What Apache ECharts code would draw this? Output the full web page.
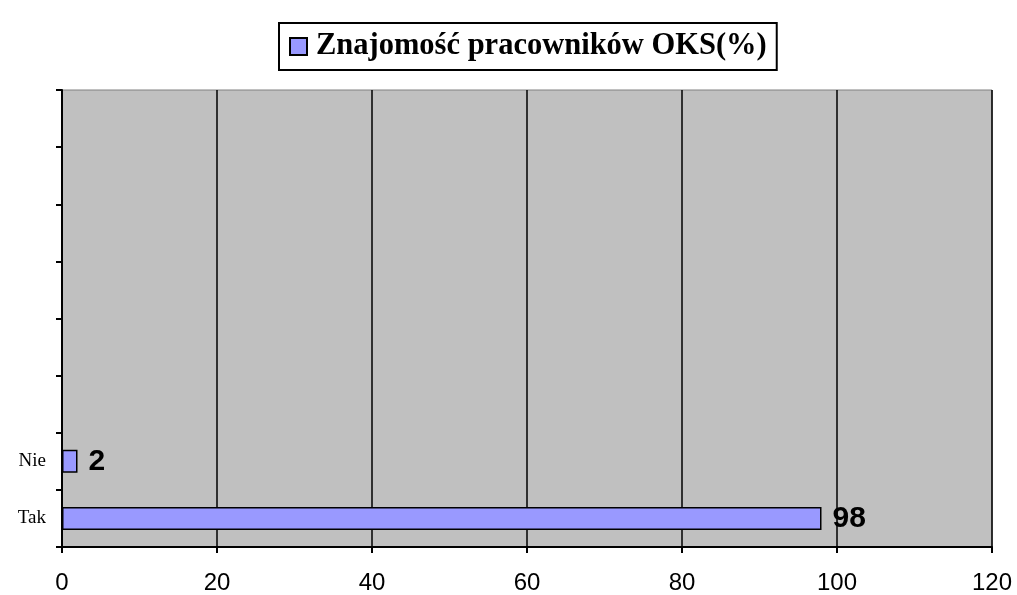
<!DOCTYPE html>
<html>
<head>
<meta charset="utf-8">
<script src="https://cdn.jsdelivr.net/npm/echarts@6/dist/echarts.min.js"></script>
<style>
html,body{margin:0;padding:0;background:#fff;}
#chart{width:1017px;height:595px;}
</style>
</head>
<body>
<div id="chart"></div>
<script>
// categories from bottom to top, the upper ones are empty in the original
var categories = ['Tak', 'Nie', '', '', '', '', '', ''];
var values     = [98, 2, '-', '-', '-', '-', '-', '-'];
var seriesName = 'Znajomość pracowników OKS(%)';
var xTicks     = [0, 20, 40, 60, 80, 100, 120];

var myChart = echarts.init(document.getElementById('chart'));

var option = {
	animation: false,
	backgroundColor: '#fff',
	legend: {
		left: 279,
		top: 23,
		padding: [8, 10, 8, 10],
		borderColor: '#000',
		borderWidth: 2,
		itemWidth: 17,
		itemHeight: 17,
		itemGap: 10,
		icon: 'rect',
		data: [seriesName],
		textStyle: {
			fontFamily: 'Liberation Serif',
			fontWeight: 'bold',
			fontSize: 30.5,
			padding: [0, 0, 0, 4],
			color: '#000'
		}
	},
	grid: {
		left: 62,
		right: 25,
		top: 90,
		bottom: 48,
		show: true,
		backgroundColor: '#C0C0C0',
		borderColor: '#808080',
		borderWidth: 1
	},
	xAxis: {
		type: 'value',
		min: xTicks[0],
		max: xTicks[xTicks.length - 1],
		interval: 20,
		axisLine: { show: true, lineStyle: { color: '#000', width: 2 } },
		axisTick: { show: true, length: 6, lineStyle: { color: '#000', width: 2 } },
		axisLabel: {
			margin: 24,
			fontFamily: 'Liberation Sans',
			fontSize: 24,
			color: '#000'
		},
		splitLine: { show: true, lineStyle: { color: '#000', width: 1.5 } }
	},
	yAxis: {
		type: 'category',
		data: categories,
		axisLine: { show: true, lineStyle: { color: '#000', width: 2 } },
		axisTick: { show: true, length: 6, lineStyle: { color: '#000', width: 2 } },
		axisLabel: {
			margin: 16,
			fontFamily: 'Liberation Serif',
			fontSize: 19,
			color: '#000'
		},
		splitLine: { show: false }
	},
	series: [{
		name: seriesName,
		type: 'bar',
		data: values,
		barWidth: 23,
		itemStyle: {
			color: '#9999FF',
			borderColor: '#000',
			borderWidth: 1.5
		},
		label: {
			show: true,
			position: 'right',
			distance: 11,
			fontFamily: 'Liberation Sans',
			fontWeight: 'bold',
			fontSize: 30,
			color: '#000'
		}
	}]
};

myChart.setOption(option);
</script>
</body>
</html>
